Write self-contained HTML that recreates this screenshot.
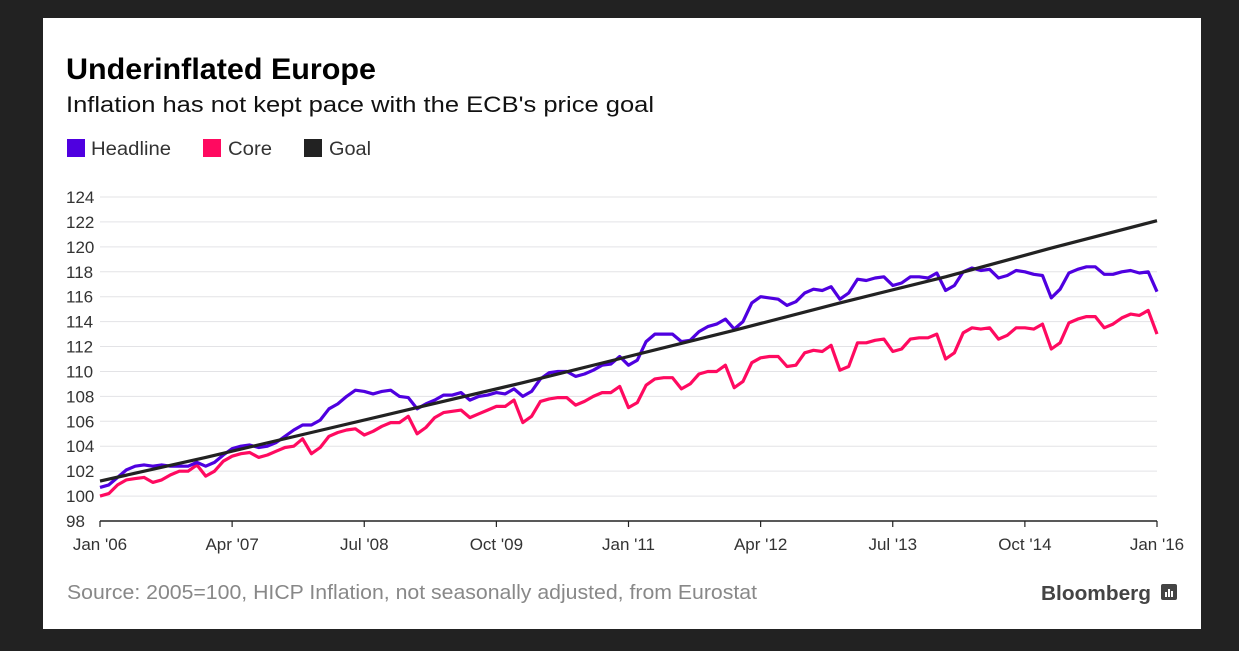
<!DOCTYPE html>
<html><head><meta charset="utf-8"><style>
body{margin:0;width:1239px;height:651px;background:#222;overflow:hidden;font-family:"Liberation Sans",Arial,sans-serif}
#panel{position:absolute;left:43px;top:18px;width:1158px;height:611px;background:#fff}
</style></head><body>
<div id="panel"></div>
<svg id="chart" width="1239" height="651" style="position:absolute;left:0;top:0">
<text x="66" y="79" font-size="30" font-weight="bold" fill="#000" textLength="310" lengthAdjust="spacingAndGlyphs">Underinflated Europe</text>
<text x="66" y="112" font-size="22" fill="#111" textLength="588" lengthAdjust="spacingAndGlyphs">Inflation has not kept pace with the ECB's price goal</text>
<g>
<g><rect x="67" y="139" width="18" height="18" fill="#4f00e0"/><text x="91" y="155" font-size="19" fill="#333" textLength="80" lengthAdjust="spacingAndGlyphs">Headline</text></g>
<g><rect x="203" y="139" width="18" height="18" fill="#ff0a60"/><text x="228" y="155" font-size="19" fill="#333" textLength="44" lengthAdjust="spacingAndGlyphs">Core</text></g>
<g><rect x="304" y="139" width="18" height="18" fill="#222"/><text x="329" y="155" font-size="19" fill="#333" textLength="42" lengthAdjust="spacingAndGlyphs">Goal</text></g>
</g>
<g id="grid"></g><g id="axes"></g><g id="series"></g>
<text x="67" y="599" font-size="20" fill="#888" textLength="690" lengthAdjust="spacingAndGlyphs">Source: 2005=100, HICP Inflation, not seasonally adjusted, from Eurostat</text>
<text x="1041" y="600" font-size="20" font-weight="bold" fill="#444" textLength="110" lengthAdjust="spacingAndGlyphs">Bloomberg</text>
<g><rect x="1161" y="584" width="16" height="16" rx="2" fill="#444"/><rect x="1165" y="592" width="2" height="5" fill="#fff"/><rect x="1168" y="589" width="2" height="8" fill="#fff"/><rect x="1171" y="591" width="2" height="6" fill="#fff"/></g>
</svg>
<script>
const yTicks=[98,100,102,104,106,108,110,112,114,116,118,120,122,124];
const xTickLabels=["Jan '06","Apr '07","Jul '08","Oct '09","Jan '11","Apr '12","Jul '13","Oct '14","Jan '16"];
const xTickMonths=[0,15,30,45,60,75,90,105,120];
const headline=[100.7,100.9,101.5,102.1,102.4,102.5,102.4,102.5,102.4,102.4,102.4,102.7,
102.4,102.7,103.3,103.8,104.0,104.1,103.9,104.0,104.3,104.8,105.3,105.7,
105.7,106.1,107.0,107.4,108.0,108.5,108.4,108.2,108.4,108.5,108.0,107.9,
107.0,107.4,107.7,108.1,108.1,108.3,107.7,108.0,108.1,108.3,108.2,108.6,
108.0,108.4,109.4,109.9,110.0,110.0,109.6,109.8,110.1,110.5,110.6,111.2,
110.5,110.9,112.4,113.0,113.0,113.0,112.4,112.5,113.2,113.6,113.8,114.2,
113.4,114.0,115.5,116.0,115.9,115.8,115.3,115.6,116.3,116.6,116.5,116.8,
115.8,116.3,117.4,117.3,117.5,117.6,116.9,117.1,117.6,117.6,117.5,117.9,
116.5,116.9,118.0,118.3,118.1,118.2,117.5,117.7,118.1,118.0,117.8,117.7,
115.9,116.6,117.9,118.2,118.4,118.4,117.8,117.8,118.0,118.1,117.9,118.0,116.4];
const core=[100.0,100.2,100.9,101.3,101.4,101.5,101.1,101.3,101.7,102.0,102.0,102.5,
101.6,102.0,102.8,103.2,103.4,103.5,103.1,103.3,103.6,103.9,104.0,104.6,
103.4,103.9,104.8,105.1,105.3,105.4,104.9,105.2,105.6,105.9,105.9,106.4,
105.0,105.5,106.3,106.7,106.8,106.9,106.3,106.6,106.9,107.2,107.2,107.7,
105.9,106.4,107.6,107.8,107.9,107.9,107.3,107.6,108.0,108.3,108.3,108.8,
107.1,107.5,108.9,109.4,109.5,109.5,108.6,109.0,109.8,110.0,110.0,110.5,
108.7,109.2,110.7,111.1,111.2,111.2,110.4,110.5,111.5,111.7,111.6,112.1,
110.1,110.4,112.3,112.3,112.5,112.6,111.6,111.8,112.6,112.7,112.7,113.0,
111.0,111.5,113.1,113.5,113.4,113.5,112.6,112.9,113.5,113.5,113.4,113.8,
111.8,112.3,113.9,114.2,114.4,114.4,113.5,113.8,114.3,114.6,114.5,114.9,113.0];
const goalYearly=[101.2,103.1,105.1,107.1,109.1,111.2,113.3,115.5,117.6,119.9,122.1];
const X0=100,X1=1157,Y0=521,Y1=197;
const xs=m=>X0+(X1-X0)*m/120;
const ys=v=>Y0-(Y0-Y1)*(v-98)/26;
const NS="http://www.w3.org/2000/svg";
function mk(tag,attrs,parent){const e=document.createElementNS(NS,tag);for(const k in attrs)e.setAttribute(k,attrs[k]);parent.appendChild(e);return e;}
const grid=document.getElementById('grid'),axes=document.getElementById('axes'),series=document.getElementById('series');
yTicks.forEach(t=>{
  if(t>98){const l=mk('line',{x1:X0,x2:X1,y1:ys(t),y2:ys(t),stroke:'#e3e3e6','stroke-width':1},grid);
  
  }
  const tx=mk('text',{x:66,y:ys(t)+6,'font-size':17,fill:'#333'},axes);tx.textContent=t;
  
  
});
const ax=mk('line',{x1:X0,x2:X1,y1:Y0,y2:Y0,stroke:'#222','stroke-width':1.5},axes);


xTickLabels.forEach((lab,i)=>{
  const x=xs(xTickMonths[i]);
  const tk=mk('line',{x1:x,x2:x,y1:Y0,y2:Y0+6,stroke:'#222','stroke-width':1.2},axes);
  
  
  const tx=mk('text',{x:x,y:550,'font-size':17,fill:'#333','text-anchor':'middle'},axes);tx.textContent=lab;
  
  
});
function line(vals,step,color,name){
  const d=vals.map((v,i)=>(i?'L':'M')+xs(i*step).toFixed(1)+','+ys(v).toFixed(1)).join('');
  const p=mk('path',{d:d,fill:'none',stroke:color,'stroke-width':3.2,'stroke-linejoin':'round'},series);
  
  
}
line(core,1,'#ff0a60','core-line');
line(headline,1,'#4f00e0','headline-line');
line(goalYearly,12,'#222','goal-line');
</script>
</body></html>
